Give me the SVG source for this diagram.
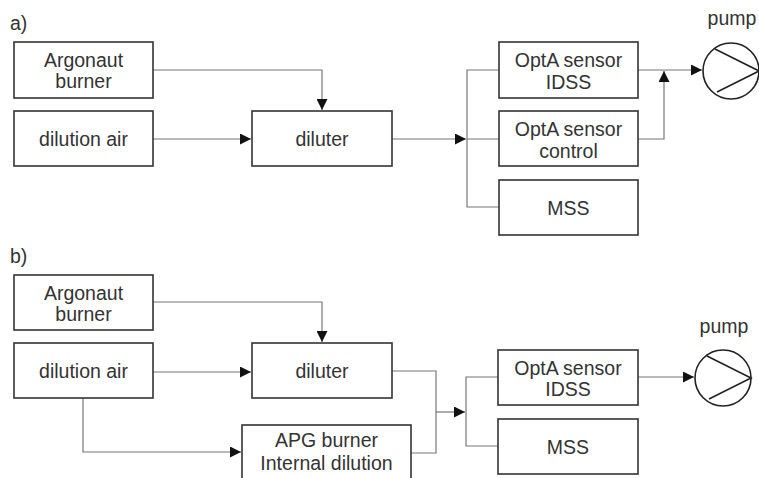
<svg xmlns="http://www.w3.org/2000/svg" width="759" height="478" viewBox="0 0 759 478">
<style>
.box{fill:#fff;stroke:#333;stroke-width:1.6}
.t{font-family:"Liberation Sans",Arial,sans-serif;font-size:19.5px;fill:#333;text-anchor:middle}
.lbl{font-family:"Liberation Sans",Arial,sans-serif;font-size:19.5px;fill:#333}
.c{fill:none;stroke:#777;stroke-width:1.2}
.pump{fill:#fff;stroke:#222;stroke-width:1.6}
.pl{fill:none;stroke:#222;stroke-width:1.6}
</style>
<defs>
<marker id="ah" viewBox="0 0 10 10" refX="10" refY="5" markerWidth="11" markerHeight="11" markerUnits="userSpaceOnUse" orient="auto">
<path d="M0,0 L10,5 L0,10 Z" fill="#111"/>
</marker>
</defs>
<rect width="759" height="478" fill="#fff"/>
<text class="lbl" x="10" y="30">a)</text>
<text class="lbl" x="10" y="263">b)</text>

<g id="connectors">
<!-- a -->
<path class="c" d="M153,70 H322 V110" marker-end="url(#ah)"/>
<path class="c" d="M153,139 H251" marker-end="url(#ah)"/>
<path class="c" d="M392,139 H466" marker-end="url(#ah)"/>
<path class="c" d="M499,70 H467 V207 H499 M467,139 H499"/>
<path class="c" d="M638,70 H702" marker-end="url(#ah)"/>
<path class="c" d="M638,139 H664 V71" marker-end="url(#ah)"/>
<!-- b -->
<path class="c" d="M153,302 H322 V342" marker-end="url(#ah)"/>
<path class="c" d="M153,372 H251" marker-end="url(#ah)"/>
<path class="c" d="M83,398 V452 H241" marker-end="url(#ah)"/>
<path class="c" d="M392,371 H436 V453 H411"/>
<path class="c" d="M436,412 H465" marker-end="url(#ah)"/>
<path class="c" d="M498,377 H466 V446 H498"/>
<path class="c" d="M638,377 H694" marker-end="url(#ah)"/>
</g>

<g id="a-argonaut"><rect class="box" x="14" y="42" width="139" height="56"/><text class="t" x="83.5" y="67">Argonaut</text><text class="t" x="83.5" y="88">burner</text></g>
<g id="a-dilution-air"><rect class="box" x="14" y="111" width="139" height="55"/><text class="t" x="83.5" y="146">dilution air</text></g>
<g id="a-diluter"><rect class="box" x="252" y="111" width="140" height="55"/><text class="t" x="322" y="146">diluter</text></g>
<g id="a-idss"><rect class="box" x="499" y="42" width="139" height="56"/><text class="t" x="568.5" y="67">OptA sensor</text><text class="t" x="568.5" y="89">IDSS</text></g>
<g id="a-control"><rect class="box" x="499" y="111" width="139" height="55"/><text class="t" x="568.5" y="136">OptA sensor</text><text class="t" x="568.5" y="158">control</text></g>
<g id="a-mss"><rect class="box" x="499" y="180" width="139" height="55"/><text class="t" x="568.5" y="215">MSS</text></g>
<g id="a-pump"><text class="t" x="732" y="25">pump</text><circle class="pump" cx="731" cy="71" r="28"/><path class="pl" d="M715,49 L759,71 L717,92"/></g>

<g id="b-argonaut"><rect class="box" x="14" y="275" width="139" height="55"/><text class="t" x="83.5" y="300">Argonaut</text><text class="t" x="83.5" y="321">burner</text></g>
<g id="b-dilution-air"><rect class="box" x="14" y="343" width="139" height="55"/><text class="t" x="83.5" y="378">dilution air</text></g>
<g id="b-diluter"><rect class="box" x="252" y="343" width="140" height="55"/><text class="t" x="322" y="378">diluter</text></g>
<g id="b-apg"><rect class="box" x="242" y="425" width="169" height="60"/><text class="t" x="326.5" y="447">APG burner</text><text class="t" x="326.5" y="470">Internal dilution</text></g>
<g id="b-idss"><rect class="box" x="498" y="350" width="140" height="55"/><text class="t" x="568" y="375">OptA sensor</text><text class="t" x="568" y="396">IDSS</text></g>
<g id="b-mss"><rect class="box" x="498" y="419" width="140" height="55"/><text class="t" x="568" y="454">MSS</text></g>
<g id="b-pump"><text class="t" x="724" y="333">pump</text><circle class="pump" cx="723" cy="378" r="28"/><path class="pl" d="M707,356 L751,378 L709,399"/></g>
</svg>
